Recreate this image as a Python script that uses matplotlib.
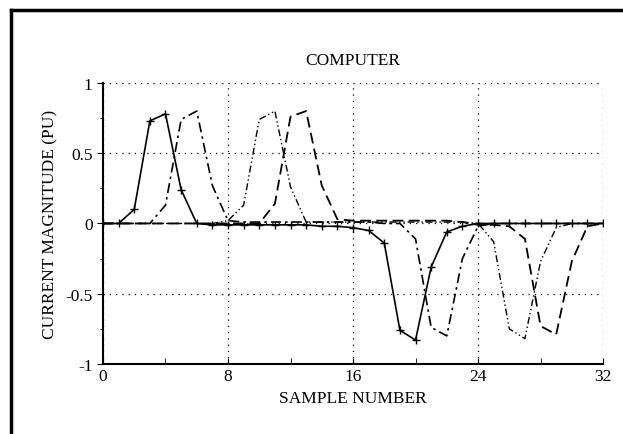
import matplotlib
matplotlib.use("Agg")
import matplotlib.pyplot as plt
from matplotlib.ticker import MultipleLocator
from matplotlib.lines import Line2D

samples = list(range(33))
series_a = [0, 0, 0.10, 0.73, 0.78, 0.24, 0.0, -0.01, -0.01, -0.01, -0.01, -0.01, -0.01, -0.01,
            -0.02, -0.02, -0.03, -0.05, -0.14, -0.76, -0.83, -0.31, -0.06, -0.02,
            0, 0, 0, 0, 0, 0, 0, 0, 0]
series_b = [0, 0, 0, 0, 0.13, 0.74, 0.80, 0.27, 0.02, 0.01, 0.01, 0.01, 0.01, 0.01,
            0.01, 0.01, 0.01, 0.01, 0.0, 0.0, -0.11, -0.74, -0.80, -0.25, -0.02,
            0, 0, 0, 0, 0, 0, 0, 0]
series_c = [0, 0, 0, 0, 0, 0, 0, 0, 0.02, 0.13, 0.74, 0.80, 0.26, 0.01, 0.01,
            0.01, 0.01, 0.01, 0.01, 0.01, 0.01, 0.01, 0.01, 0.01, 0.0,
            -0.13, -0.75, -0.82, -0.27, -0.03, 0, 0, 0]
series_d = [0, 0, 0, 0, 0, 0, 0, 0, 0, 0, 0.0, 0.14, 0.76, 0.80, 0.27, 0.03,
            0.02, 0.02, 0.02, 0.02, 0.02, 0.02, 0.02, 0.01, -0.01, -0.01,
            -0.02, -0.11, -0.73, -0.79, -0.27, -0.02, 0]

x_ticks = [0, 8, 16, 24, 32]
x_tick_labels = ["0", "8", "16", "24", "32"]
y_ticks = [-1, -0.5, 0, 0.5, 1]
y_tick_labels = ["-1", "-0.5", "0", "0.5", "1"]

plt.rcParams['font.family'] = ['Liberation Serif', 'DejaVu Serif']

fig = plt.figure(figsize=(6.23, 4.35), dpi=100)
ax = fig.add_axes([0.1653, 0.161, 0.8027, 0.646])

ax.plot(samples, series_a, color='black', lw=1.2, ls='-', marker='+', ms=6, mew=1.0)
ax.plot(samples, series_b, color='black', lw=1.2, ls=(0, (6, 2.5, 1.5, 2.5)))
ax.plot(samples, series_c, color='black', lw=1.0, ls=(0, (5, 2, 1, 2, 1, 2)))
ax.plot(samples, series_d, color='black', lw=1.3, ls=(0, (6, 3)))

ax.set_xlim(0, 32)
ax.set_ylim(-1, 1)
ax.set_xticks(x_ticks)
ax.set_xticklabels(x_tick_labels)
ax.set_yticks(y_ticks)
ax.set_yticklabels(y_tick_labels)
ax.xaxis.set_minor_locator(MultipleLocator(4))
ax.yaxis.set_minor_locator(MultipleLocator(0.25))
ax.tick_params(axis='x', which='both', direction='in', length=4, labelsize=12.5, pad=3)
ax.tick_params(axis='y', which='major', direction='out', length=4, labelsize=12.5)
ax.tick_params(axis='y', which='minor', direction='out', length=2)

ax.grid(True, which='major', color='black', ls=(0, (1, 4)), lw=0.9)
ax.spines['top'].set_visible(False)
ax.spines['right'].set_visible(False)
ax.spines['left'].set_linewidth(1.5)
ax.spines['bottom'].set_linewidth(1.5)

ax.set_title("COMPUTER", fontsize=12.5, pad=14)
ax.set_xlabel("SAMPLE NUMBER", fontsize=12.5, labelpad=4)
ax.set_ylabel("CURRENT MAGNITUDE (PU)", fontsize=12.5, labelpad=5)

# page frame lines (top and left)
fig.add_artist(Line2D([0.0177, 0.0177], [0.0, 0.975], transform=fig.transFigure, color='black', lw=2.5))
fig.add_artist(Line2D([0.0177, 1.0], [0.975, 0.975], transform=fig.transFigure, color='black', lw=2.5))

fig.savefig("out.png", dpi=100)
